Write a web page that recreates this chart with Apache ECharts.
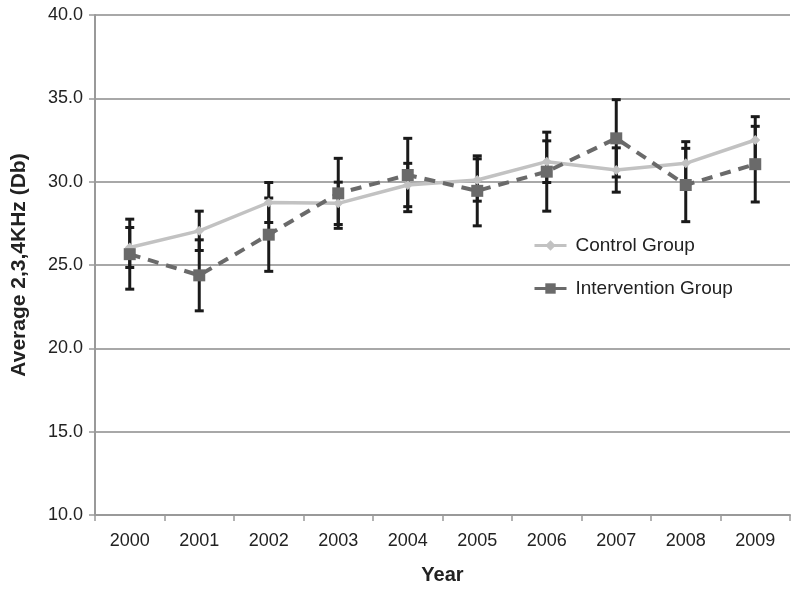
<!DOCTYPE html>
<html>
<head>
<meta charset="utf-8">
<script src="https://cdn.jsdelivr.net/npm/echarts@6/dist/echarts.min.js"></script>
<style>html,body{margin:0;padding:0;background:#fff}#chart{width:800px;height:590px}</style>
</head>
<body>
<div id="chart"></div>
<script>
const years = ['2000','2001','2002','2003','2004','2005','2006','2007','2008','2009'];
const controlMean = [26.05, 27.05, 28.75, 28.7, 29.8, 30.1, 31.2, 30.7, 31.1, 32.5];
const controlErr = [1.2, 1.18, 1.2, 1.27, 1.3, 1.27, 1.25, 1.33, 1.3, 1.4];
const interventionMean = [25.65, 24.38, 26.82, 29.3, 30.4, 29.45, 30.6, 32.6, 29.8, 31.05];
const interventionErr = [2.1, 2.13, 2.2, 2.1, 2.2, 2.1, 2.37, 2.32, 2.2, 2.27];

function errData(mean, err) {
  return mean.map((m, i) => [i, m - err[i], m + err[i]]);
}
function errRender(params, api) {
  const x = api.value(0);
  const lo = api.coord([x, api.value(1)]);
  const hi = api.coord([x, api.value(2)]);
  const hw = 4.5;
  const style = { stroke: '#1a1a1a', lineWidth: 3, fill: null };
  return {
    type: 'group',
    children: [
      { type: 'line', shape: { x1: lo[0], y1: lo[1], x2: hi[0], y2: hi[1] }, style },
      { type: 'line', shape: { x1: lo[0] - hw, y1: lo[1], x2: lo[0] + hw, y2: lo[1] }, style },
      { type: 'line', shape: { x1: hi[0] - hw, y1: hi[1], x2: hi[0] + hw, y2: hi[1] }, style }
    ]
  };
}

const chart = echarts.init(document.getElementById('chart'), null, { renderer: 'canvas' });
chart.setOption({
  animation: false,
  backgroundColor: '#fff',
  textStyle: { fontFamily: 'Liberation Sans, Arial, sans-serif' },
  grid: { left: 95, right: 10, top: 15, bottom: 75, containLabel: false },
  legend: {
    orient: 'vertical',
    left: 528,
    top: 231,
    itemGap: 24,
    itemWidth: 32,
    itemHeight: 13,
    lineStyle: { type: 'solid', width: 3 },
    textStyle: { fontSize: 19, color: '#222', fontFamily: 'Liberation Sans, Arial, sans-serif', padding: [0, 0, 0, 4] },
    data: ['Control Group', 'Intervention Group']
  },
  xAxis: {
    type: 'category',
    data: years,
    boundaryGap: true,
    name: 'Year',
    nameLocation: 'middle',
    nameGap: 50,
    nameTextStyle: { fontSize: 20, fontWeight: 'bold', color: '#222' },
    axisLine: { lineStyle: { color: '#999', width: 2 } },
    axisTick: { show: true, length: 6, lineStyle: { color: '#999', width: 1.5 } },
    axisLabel: { fontSize: 18, color: '#222', margin: 17 }
  },
  yAxis: {
    type: 'value',
    min: 10,
    max: 40,
    interval: 5,
    name: 'Average 2,3,4KHz (Db)',
    nameLocation: 'middle',
    nameGap: 65,
    nameRotate: 90,
    nameTextStyle: { fontSize: 21, fontWeight: 'bold', color: '#222' },
    axisLine: { show: true, lineStyle: { color: '#999', width: 2 } },
    axisTick: { show: true, length: 6, lineStyle: { color: '#999', width: 1.5 } },
    axisLabel: { fontSize: 18, color: '#222', margin: 12, formatter: v => v.toFixed(1) },
    splitLine: { show: true, lineStyle: { color: '#a8a8a8', width: 1.8 } }
  },
  series: [
    {
      type: 'custom',
      name: 'errC',
      data: errData(controlMean, controlErr),
      renderItem: errRender,
      z: 1,
      silent: true
    },
    {
      type: 'custom',
      name: 'errI',
      data: errData(interventionMean, interventionErr),
      renderItem: errRender,
      z: 1,
      silent: true
    },
    {
      name: 'Control Group',
      type: 'line',
      data: controlMean,
      z: 3,
      symbol: 'diamond',
      symbolSize: 10,
      itemStyle: { color: '#c2c2c2' },
      lineStyle: { color: '#c2c2c2', width: 3.5 }
    },
    {
      name: 'Intervention Group',
      type: 'line',
      data: interventionMean,
      z: 4,
      symbol: 'rect',
      symbolSize: 12,
      itemStyle: { color: '#6a6a6a' },
      lineStyle: { color: '#6a6a6a', width: 4, type: [11, 8] }
    }
  ]
});
</script>
</body>
</html>
